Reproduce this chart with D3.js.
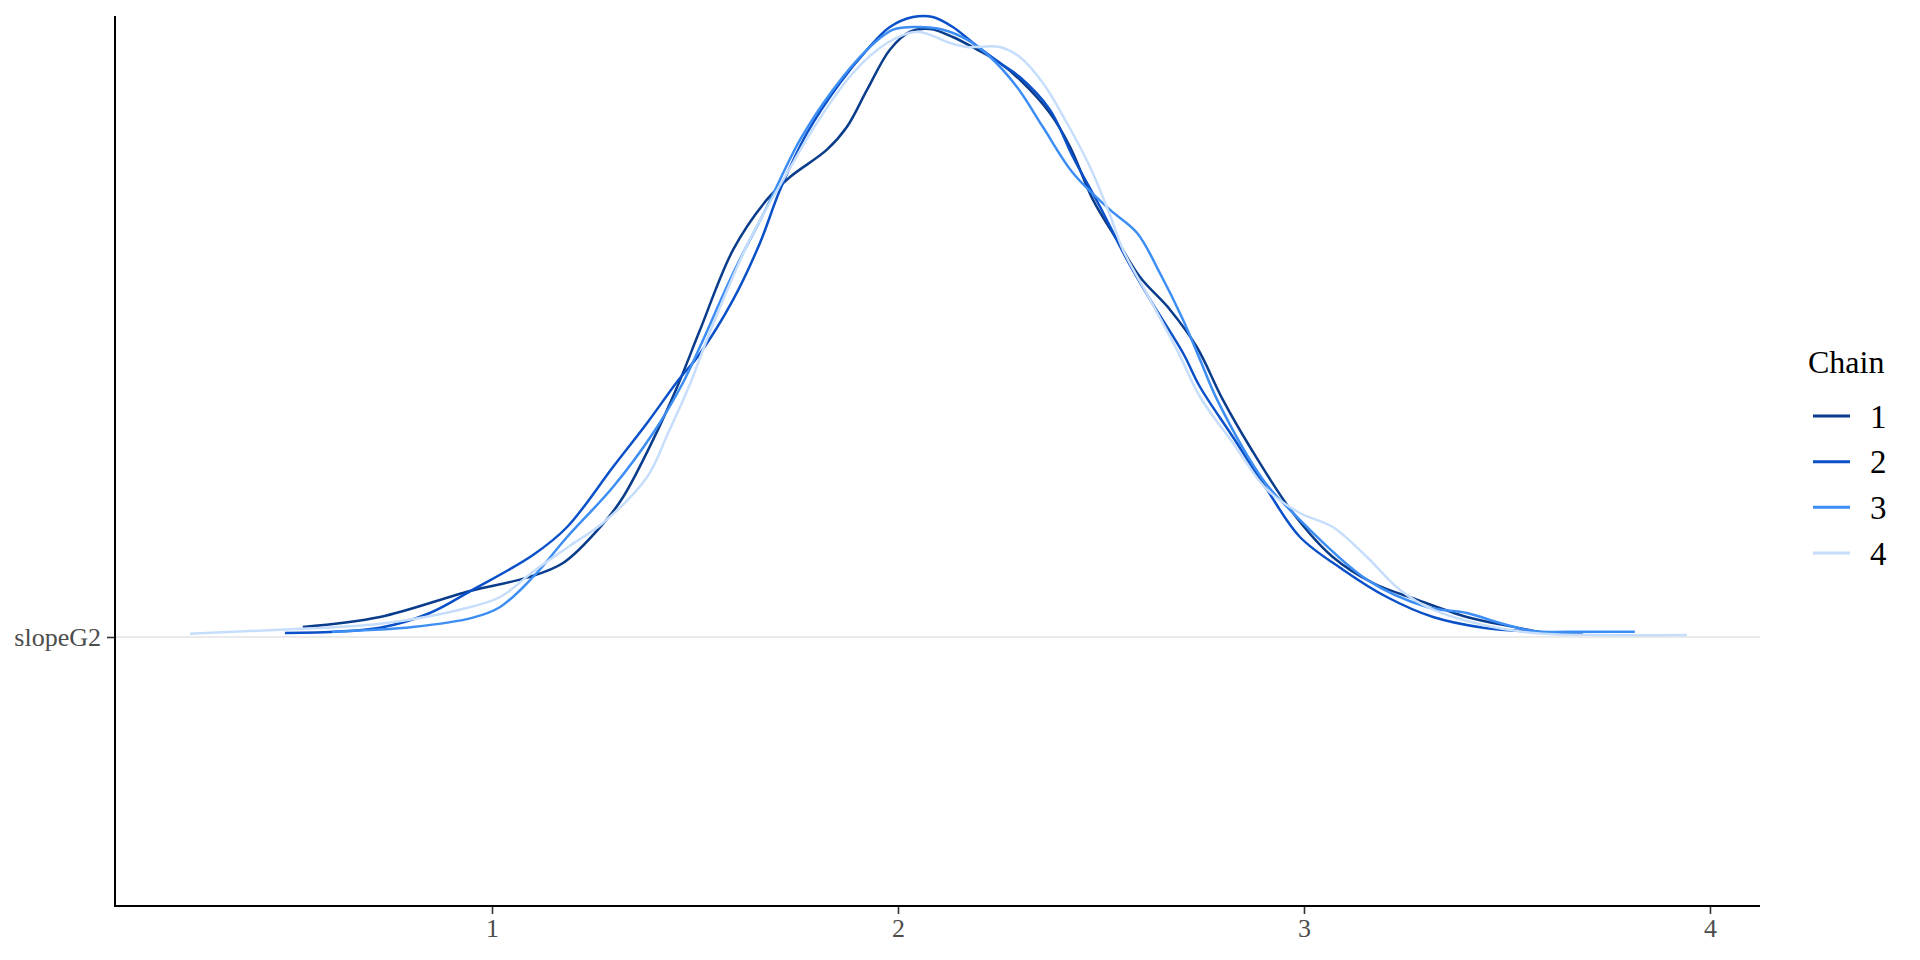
<!DOCTYPE html>
<html>
<head>
<meta charset="utf-8">
<script src="https://cdn.jsdelivr.net/npm/d3@7"></script>
<style>
  html, body { margin: 0; padding: 0; background: #ffffff; }
  svg { display: block; font-family: "Liberation Serif", "Times New Roman", serif; }
</style>
</head>
<body>
<svg id="chart" width="1920" height="960"></svg>
<script>
// ---------------- data ----------------
const params = ["slopeG2"];
const chains = ["1", "2", "3", "4"];
const xTicks = [1, 2, 3, 4];

const chain1X = [0.534,0.724,0.946,1.086,1.175,1.271,1.323,1.397,1.456,1.512,1.594,1.677,1.734,1.825,1.874,1.924,1.980,2.030,2.079,2.135,2.195,2.251,2.300,2.374,2.424,2.480,2.539,2.596,2.670,2.736,2.800,2.867,2.973,3.071,3.170,3.278,3.401,3.525,3.594];
const chain1D = [0.015,0.030,0.069,0.089,0.111,0.168,0.210,0.296,0.375,0.460,0.581,0.656,0.690,0.731,0.765,0.821,0.881,0.908,0.912,0.900,0.881,0.861,0.836,0.786,0.735,0.656,0.596,0.540,0.491,0.435,0.356,0.285,0.186,0.120,0.081,0.056,0.030,0.014,0.006];

const chain2X = [0.490,0.724,0.847,0.953,1.101,1.185,1.298,1.382,1.456,1.512,1.594,1.660,1.709,1.776,1.857,1.924,1.980,2.037,2.086,2.135,2.185,2.251,2.300,2.374,2.431,2.498,2.564,2.621,2.702,2.744,2.825,2.909,2.990,3.096,3.204,3.318,3.441,3.564,3.687];
const chain2D = [0.006,0.014,0.036,0.071,0.123,0.165,0.255,0.321,0.383,0.425,0.506,0.591,0.670,0.756,0.831,0.881,0.915,0.930,0.930,0.915,0.891,0.861,0.840,0.791,0.720,0.645,0.566,0.506,0.426,0.375,0.300,0.221,0.150,0.101,0.060,0.030,0.014,0.008,0.006];

const chain3X = [0.606,0.805,0.953,1.020,1.101,1.185,1.298,1.397,1.470,1.512,1.594,1.677,1.759,1.840,1.924,1.988,2.047,2.111,2.170,2.227,2.293,2.357,2.431,2.522,2.589,2.645,2.702,2.744,2.786,2.899,2.973,3.155,3.303,3.401,3.483,3.564,3.687,3.815];
const chain3D = [0.008,0.015,0.029,0.045,0.090,0.150,0.225,0.306,0.381,0.435,0.546,0.645,0.746,0.821,0.881,0.911,0.915,0.911,0.896,0.870,0.825,0.765,0.696,0.641,0.606,0.546,0.476,0.416,0.356,0.236,0.186,0.086,0.045,0.036,0.021,0.009,0.008,0.008];

const chain4X = [0.256,0.478,0.724,0.921,1.020,1.101,1.192,1.273,1.382,1.433,1.488,1.537,1.635,1.727,1.800,1.889,1.973,2.047,2.128,2.170,2.251,2.300,2.357,2.416,2.473,2.522,2.554,2.621,2.687,2.744,2.825,2.909,2.990,3.071,3.155,3.236,3.318,3.441,3.564,3.729,3.943];
const chain4D = [0.005,0.011,0.020,0.041,0.060,0.098,0.137,0.171,0.240,0.305,0.380,0.458,0.596,0.696,0.771,0.846,0.891,0.908,0.891,0.885,0.885,0.870,0.831,0.771,0.705,0.633,0.581,0.506,0.431,0.360,0.291,0.221,0.186,0.165,0.120,0.071,0.041,0.018,0.006,0.003,0.003];

const chainColors = ["#0a3c8c", "#0a50c8", "#3d8ef4", "#c6defb"];

// ---------------- build ----------------
const series = [
  { chain: chains[0], xs: chain1X, ds: chain1D },
  { chain: chains[1], xs: chain2X, ds: chain2D },
  { chain: chains[2], xs: chain3X, ds: chain3D },
  { chain: chains[3], xs: chain4X, ds: chain4D }
].map(s => ({ chain: s.chain, param: params[0], pts: s.xs.map((x, i) => ({ x, d: s.ds[i] })) }));

const svg = d3.select("#chart");
svg.append("rect").attr("width", 1920).attr("height", 960).attr("fill", "#ffffff");

const plotLeft = 115, plotRight = 1760, plotTop = 16, plotBottom = 906;

const x = d3.scaleLinear().domain([0.0714, 4.1232]).range([plotLeft, plotRight]);
const yCat = d3.scalePoint().domain(params).range([637, 637]);
const yDens = d3.scaleLinear().domain([0, 0.93]).range([0, 620]);
const color = d3.scaleOrdinal().domain(chains).range(chainColors);

// gridline at parameter baseline
svg.append("g").selectAll("line").data(params).join("line")
  .attr("x1", plotLeft).attr("x2", plotRight)
  .attr("y1", d => yCat(d)).attr("y2", d => yCat(d))
  .attr("stroke", "#e3e3e3").attr("stroke-width", 1.6);

// density lines
const line = d3.line()
  .x(p => x(p.x))
  .y(p => yCat(params[0]) - yDens(p.d))
  .curve(d3.curveCatmullRom.alpha(0.5));

svg.append("g").selectAll("path").data(series).join("path")
  .attr("d", s => line(s.pts))
  .attr("fill", "none")
  .attr("stroke", s => color(s.chain))
  .attr("stroke-width", 2.5)
  .attr("stroke-linecap", "butt");

// x axis
const xAxis = svg.append("g")
  .attr("transform", `translate(0,${plotBottom})`)
  .call(d3.axisBottom(x).tickValues(xTicks).tickFormat(d3.format("d")).tickSize(8).tickPadding(5));
xAxis.select(".domain").remove();
xAxis.selectAll(".tick line").attr("stroke", "#333333").attr("stroke-width", 1.6);
xAxis.selectAll(".tick text")
  .attr("fill", "#4d4d4d").attr("font-size", 26)
  .attr("font-family", "'Liberation Serif', 'Times New Roman', serif");

// y axis
const yAxis = svg.append("g")
  .attr("transform", `translate(${plotLeft},0)`)
  .call(d3.axisLeft(yCat).tickSize(8).tickPadding(6));
yAxis.select(".domain").remove();
yAxis.selectAll(".tick line").attr("stroke", "#333333").attr("stroke-width", 1.6);
yAxis.selectAll(".tick text")
  .attr("fill", "#4d4d4d").attr("font-size", 26)
  .attr("font-family", "'Liberation Serif', 'Times New Roman', serif");

// axis lines
svg.append("line").attr("x1", plotLeft).attr("x2", plotLeft).attr("y1", plotTop).attr("y2", plotBottom + 1)
  .attr("stroke", "#000000").attr("stroke-width", 2);
svg.append("line").attr("x1", plotLeft - 1).attr("x2", plotRight).attr("y1", plotBottom).attr("y2", plotBottom)
  .attr("stroke", "#000000").attr("stroke-width", 2);

// legend
const legend = svg.append("g").attr("transform", "translate(1808,0)");
legend.append("text").attr("x", 0).attr("y", 373).text("Chain")
  .attr("font-size", 32).attr("fill", "#000000");
const legY = d3.scalePoint().domain(chains).range([416, 553]);
const items = legend.selectAll("g.item").data(chains).join("g").attr("class", "item")
  .attr("transform", c => `translate(0,${legY(c)})`);
items.append("line").attr("x1", 5).attr("x2", 42).attr("y1", 0).attr("y2", 0)
  .attr("stroke", c => color(c)).attr("stroke-width", 3);
items.append("text").attr("x", 62).attr("y", 0).attr("dy", "0.35em").text(c => c)
  .attr("font-size", 33).attr("fill", "#000000");
</script>
</body>
</html>
